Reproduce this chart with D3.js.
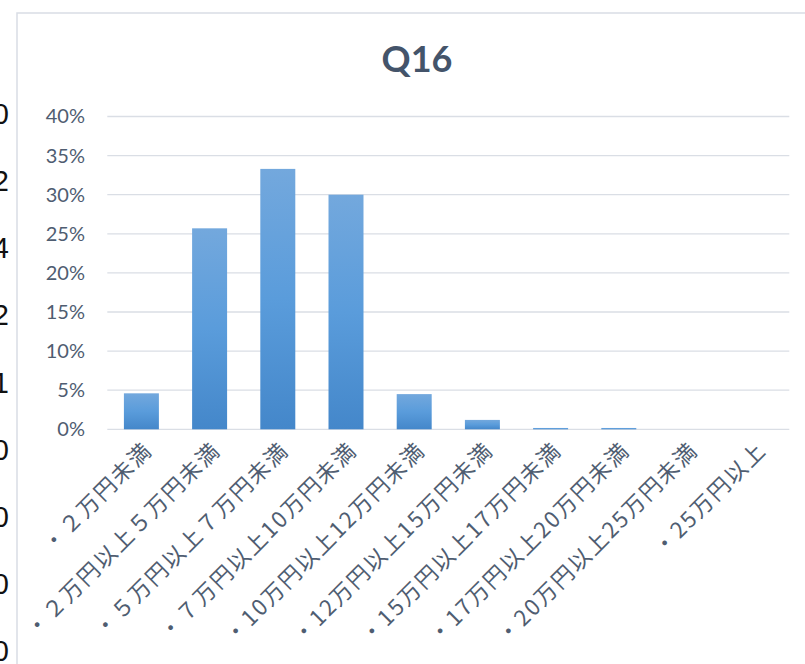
<!DOCTYPE html>
<html><head><meta charset="utf-8">
<script src="https://cdn.jsdelivr.net/npm/d3@7"></script>
<style>html,body{margin:0;padding:0;background:#fff;overflow:hidden}</style>
</head><body>
<script>
const title = "Q16";
const categories = ["・２万円未満","・２万円以上５万円未満","・５万円以上７万円未満","・７万円以上10万円未満","・10万円以上12万円未満","・12万円以上15万円未満","・15万円以上17万円未満","・17万円以上20万円未満","・20万円以上25万円未満","・25万円以上"];
const values = [0.046, 0.257, 0.333, 0.300, 0.045, 0.012, 0.0017, 0.0017, 0, 0];
const yTicks = [0, 0.05, 0.10, 0.15, 0.20, 0.25, 0.30, 0.35, 0.40];
const leftDigits = ["0","2","4","2","1","0","0","0","0"];

const W = 805, H = 664;
const svg = d3.select("body").append("svg").attr("width", W).attr("height", H);

const defs = svg.append("defs");
const g = defs.append("linearGradient").attr("id","barGrad").attr("x1",0).attr("y1",0).attr("x2",0).attr("y2",1);
g.append("stop").attr("offset","0%").attr("stop-color","#73a8dd");
g.append("stop").attr("offset","50%").attr("stop-color","#5a9cdb");
g.append("stop").attr("offset","100%").attr("stop-color","#4487ca");

// partial digits of neighbouring chart on the left
const ld = d3.scaleLinear().domain([0, leftDigits.length-1]).range([124, 661]);
svg.selectAll("text.ld").data(leftDigits).join("text")
  .attr("class","ld").attr("x", 9).attr("y", (d,i)=>ld(i))
  .attr("text-anchor","end").attr("font-family","Liberation Sans, sans-serif")
  .attr("font-size", 29).attr("fill","#111").text(d=>d);

// chart border
svg.append("rect").attr("x",17).attr("y",13).attr("width",1200).attr("height",1000)
  .attr("fill","#fff").attr("stroke","#d9dde5").attr("stroke-width",1.5);

const x = d3.scaleBand().domain(categories).range([107.3, 789.3]).paddingInner(0.487).paddingOuter(0.2435);
const y = d3.scaleLinear().domain([0, 0.40]).range([429.3, 116.5]);

// gridlines
svg.append("g").selectAll("line").data(yTicks).join("line")
  .attr("x1",107.3).attr("x2",789.3)
  .attr("y1",d=>y(d)).attr("y2",d=>y(d))
  .attr("stroke","#dadee5").attr("stroke-width",1.3);

// y axis labels
const yAxis = d3.axisLeft(y).tickValues(yTicks).tickFormat(d3.format(".0%")).tickSize(0).tickPadding(0);
const ya = svg.append("g").attr("transform","translate(85,0)").call(yAxis);
ya.select(".domain").remove();
ya.selectAll("text").attr("font-family","Lato, sans-serif").attr("font-size",20).attr("fill","#4f5d71");

// bars
svg.append("g").selectAll("rect").data(values).join("rect")
  .attr("x",(d,i)=>x(categories[i]))
  .attr("width",x.bandwidth())
  .attr("y",d=>y(d))
  .attr("height",d=>y(0)-y(d))
  .attr("fill","url(#barGrad)");

// x axis labels
const xa = d3.axisBottom(x).tickSize(0).tickPadding(0);
const xg = svg.append("g").attr("transform","translate(0,440)").call(xa);
xg.select(".domain").remove();
xg.selectAll("text")
  .attr("font-family","Noto Sans CJK JP, sans-serif").attr("font-size",22).attr("fill","#4f5d71")
  .attr("letter-spacing","2px")
  .attr("text-anchor","end")
  .attr("dy","0.35em")
  .attr("transform","translate(7,6) rotate(-45)");

// title
svg.append("text").attr("x",417).attr("y",72).attr("text-anchor","middle")
  .attr("font-family","Lato, sans-serif").attr("font-weight","bold").attr("font-size",36)
  .attr("fill","#44546a").text(title);
</script>
</body></html>
